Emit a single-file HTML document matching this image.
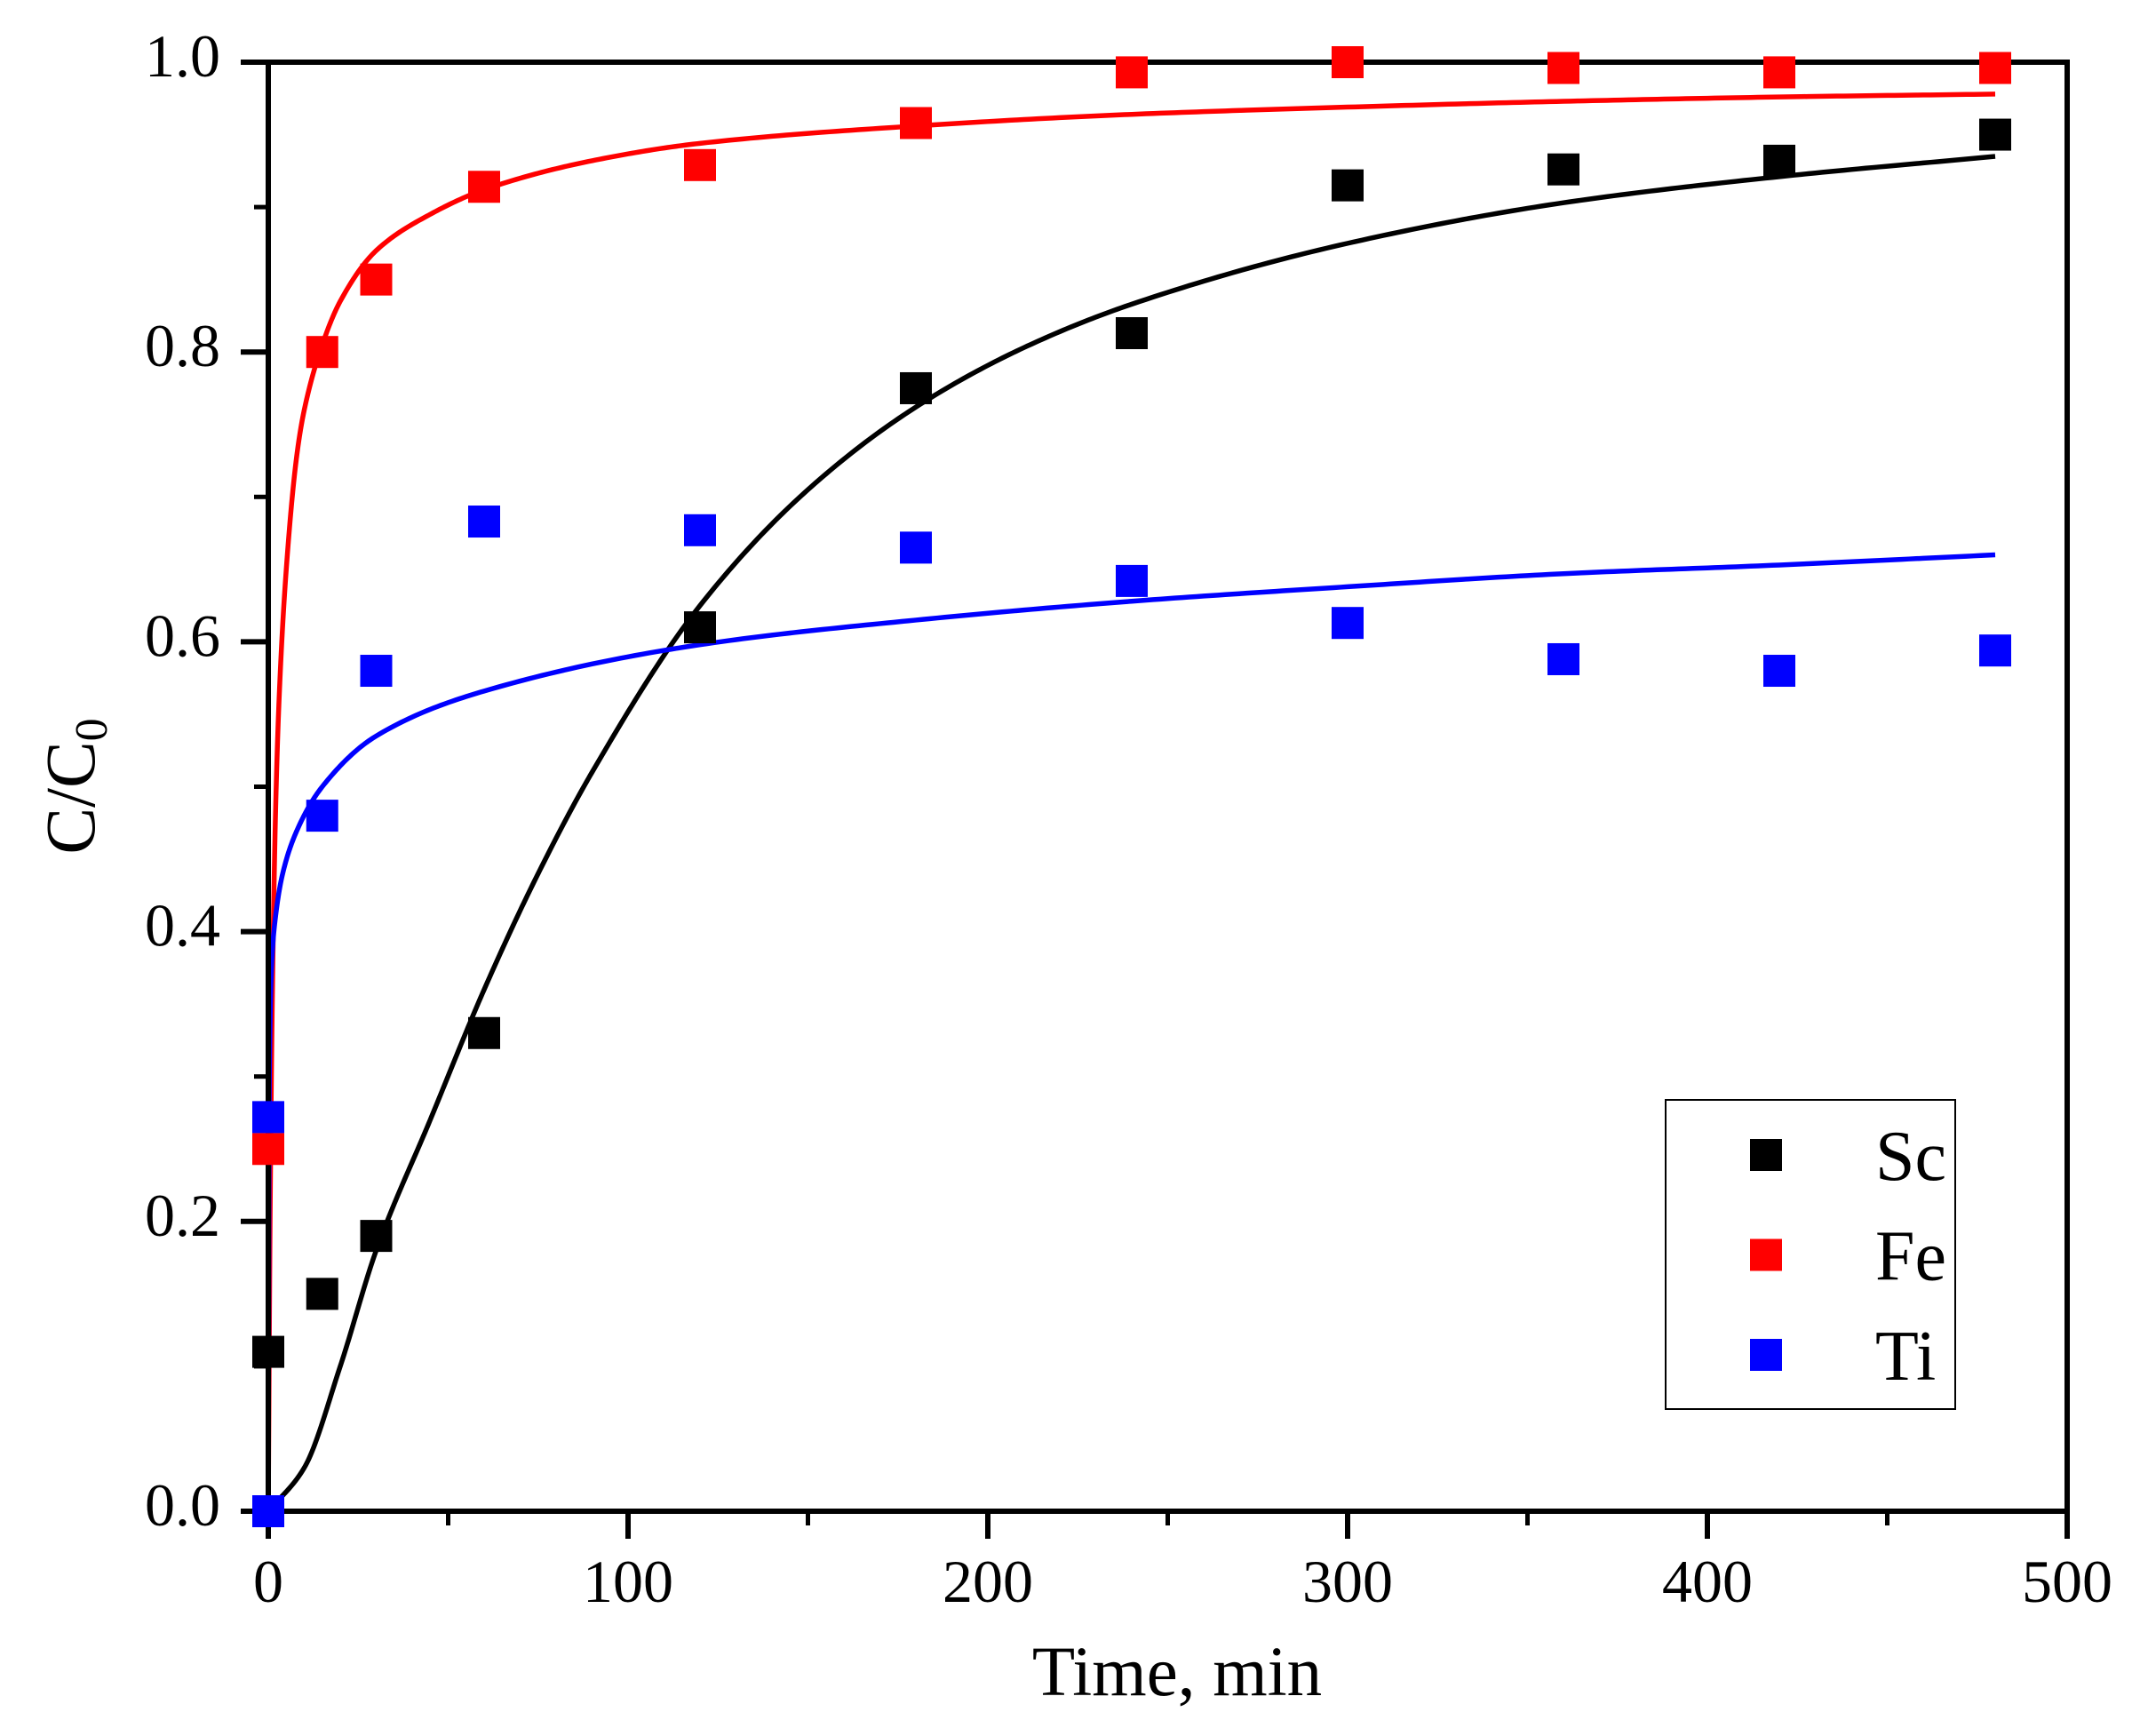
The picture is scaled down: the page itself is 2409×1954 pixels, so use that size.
<!DOCTYPE html>
<html><head><meta charset="utf-8"><style>
html,body{margin:0;padding:0;background:#fff}
svg{display:block}
text{font-family:"Liberation Serif",serif;fill:#000}
</style></head><body>
<svg id="chart" width="2409" height="1954" viewBox="0 0 2409 1954" xmlns="http://www.w3.org/2000/svg">
<g id="grid"></g>
</svg>
<script>
const xTicks=[0,100,200,300,400,500];
const xTickLabels=["0","100","200","300","400","500"];
const yTicks=[0,0.2,0.4,0.6,0.8,1.0];
const yTickLabels=["0.0","0.2","0.4","0.6","0.8","1.0"];
const seriesNames=["Sc","Fe","Ti"];
const seriesColors=["#000000","#ff0000","#0000ff"];
const scTime=[0,0,15,30,60,120,180,240,300,360,420,480];
const scValues=[0.11,0,0.15,0.19,0.33,0.61,0.775,0.813,0.915,0.926,0.932,0.95];
const feTime=[0,15,30,60,120,180,240,300,360,420,480];
const feValues=[0.25,0.80,0.85,0.914,0.929,0.958,0.993,1.0,0.996,0.993,0.996];
const tiTime=[0,0,15,30,60,120,180,240,300,360,420,480];
const tiValues=[0.272,0,0.48,0.58,0.683,0.677,0.665,0.642,0.613,0.588,0.58,0.594];
const scFitTime=[0,10,20,30,45,60,75,90,120,150,180,210,240,300,360,420,480];
const scFitValues=[0,0.03,0.1,0.18,0.27,0.36,0.44,0.51,0.625,0.705,0.762,0.803,0.833,0.875,0.903,0.921,0.935];
const feFitTime=[0,0.5,1,2,3,5,8,10,15,20,30,45,60,90,120,180,240,300,360,420,480];
const feFitValues=[0,0.2,0.33,0.48,0.56,0.65,0.73,0.76,0.805,0.835,0.87,0.895,0.912,0.932,0.944,0.956,0.964,0.969,0.973,0.976,0.978];
const tiFitTime=[0,0.3,1,2,4,8,15,30,60,120,180,240,300,360,420,480];
const tiFitValues=[0,0.3,0.38,0.41,0.44,0.47,0.50,0.535,0.566,0.598,0.615,0.628,0.638,0.647,0.653,0.66];

const X0=302,X1=2327,Y0=1701,Y1=70;
const xs=v=>X0+(v-0)/(500-0)*(X1-X0);
const ys=v=>Y0-(v-0)/(1-0)*(Y0-Y1);
const svg=document.getElementById('chart');
const NS='http://www.w3.org/2000/svg';
function mk(tag,attrs,parent){const e=document.createElementNS(NS,tag);for(const k in attrs)e.setAttribute(k,attrs[k]);(parent||svg).appendChild(e);return e;}

// monotone cubic (Fritsch-Carlson) evaluated densely in data space
function monotonePath(tx,vy){
  const n=tx.length,d=[],m=new Array(n);
  for(let i=0;i<n-1;i++)d.push((vy[i+1]-vy[i])/(tx[i+1]-tx[i]));
  m[0]=d[0];m[n-1]=d[n-2];
  for(let i=1;i<n-1;i++){
    if(d[i-1]*d[i]<=0)m[i]=0;
    else{const h0=tx[i]-tx[i-1],h1=tx[i+1]-tx[i];const w1=2*h1+h0,w2=h1+2*h0;m[i]=(w1+w2)/(w1/d[i-1]+w2/d[i]);}
  }
  let p='M'+xs(tx[0]).toFixed(2)+','+ys(vy[0]).toFixed(2);
  for(let i=0;i<n-1;i++){
    const h=tx[i+1]-tx[i],steps=30;
    for(let s=1;s<=steps;s++){
      const u=s/steps,u2=u*u,u3=u2*u;
      const v=(2*u3-3*u2+1)*vy[i]+(u3-2*u2+u)*h*m[i]+(-2*u3+3*u2)*vy[i+1]+(u3-u2)*h*m[i+1];
      p+=' L'+xs(tx[i]+u*h).toFixed(2)+','+ys(v).toFixed(2);
    }
  }
  return p;
}
const fits=[[scFitTime,scFitValues],[feFitTime,feFitValues],[tiFitTime,tiFitValues]];
fits.forEach((f,i)=>{
  const el=mk('path',{d:monotonePath(f[0],f[1]),fill:'none',stroke:seriesColors[i],'stroke-width':5.5,'stroke-linejoin':'round'});
  
  
});

// axes frame
const frame=mk('rect',{x:X0,y:Y1,width:X1-X0,height:Y0-Y1,fill:'none',stroke:'#000','stroke-width':6});



// x ticks
xTicks.forEach((v,i)=>{
  const l=mk('line',{x1:xs(v),x2:xs(v),y1:Y0,y2:Y0+31,stroke:'#000','stroke-width':6});
  
  
  const t=mk('text',{x:xs(v),y:1803,'text-anchor':'middle','font-size':68});
  t.textContent=xTickLabels[i];
  
  
  if(i<xTicks.length-1){
    const m=mk('line',{x1:xs(v+50),x2:xs(v+50),y1:Y0,y2:Y0+16,stroke:'#000','stroke-width':5});
    
    
  }
});
// y ticks
yTicks.forEach((v,i)=>{
  const l=mk('line',{x1:X0-31,x2:X0,y1:ys(v),y2:ys(v),stroke:'#000','stroke-width':6});
  
  
  const t=mk('text',{x:248,y:ys(v)+16,'text-anchor':'end','font-size':68});
  t.textContent=yTickLabels[i];
  
  
  if(i<yTicks.length-1){
    const m=mk('line',{x1:X0-16,x2:X0,y1:ys(v+0.1),y2:ys(v+0.1),stroke:'#000','stroke-width':5});
    
    
  }
});

// markers
const pts=[[scTime,scValues],[feTime,feValues],[tiTime,tiValues]];
pts.forEach((s,k)=>{
  s[0].forEach((t,i)=>{
    const r=mk('rect',{x:xs(t)-18,y:ys(s[1][i])-18,width:36,height:36,fill:seriesColors[k]});
    
    
  });
});

// axis titles
const xt=mk('text',{x:1325,y:1908,'text-anchor':'middle','font-size':79});
xt.textContent='Time, min';


const yt=mk('text',{transform:'translate(106,885) rotate(-90)','text-anchor':'middle','font-size':79});
yt.innerHTML='C/C<tspan font-size="52" dy="14">0</tspan>';



// legend
const lg=mk('g',{});


const lb=mk('rect',{x:1875,y:1238,width:326,height:348,fill:'#fff',stroke:'#000','stroke-width':2},lg);


seriesNames.forEach((n,i)=>{
  const cy=1300+i*112.5;
  const m=mk('rect',{x:1970,y:cy-18,width:36,height:36,fill:seriesColors[i]},lg);
  
  
  const t=mk('text',{x:2111,y:cy+28,'font-size':80},lg);
  t.textContent=n;
  
  
});
</script>
</body></html>
